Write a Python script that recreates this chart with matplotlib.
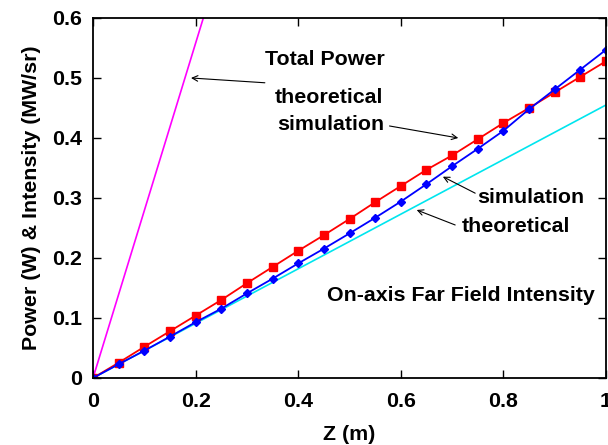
import matplotlib.pyplot as plt
import numpy as np

plt.rcParams['font.family'] = ['Liberation Sans', 'DejaVu Sans']
plt.rcParams['font.weight'] = 'bold'

z = [0.0, 0.05, 0.1, 0.15, 0.2, 0.25, 0.3, 0.35, 0.4, 0.45, 0.5,
     0.55, 0.6, 0.65, 0.7, 0.75, 0.8, 0.85, 0.9, 0.95, 1.0]
power_sim = [0.0, 0.0255, 0.052, 0.078, 0.104, 0.130, 0.158, 0.185, 0.212, 0.238, 0.265,
             0.293, 0.320, 0.347, 0.371, 0.398, 0.425, 0.450, 0.476, 0.502, 0.528]
inten_sim = [0.0, 0.023, 0.0455, 0.069, 0.093, 0.1155, 0.141, 0.1655, 0.191, 0.2155, 0.241,
             0.267, 0.294, 0.323, 0.353, 0.382, 0.412, 0.448, 0.481, 0.514, 0.547]
z_theory = [0.0, 1.0]
power_theory = [0.0, 2.79]
inten_theory = [0.0, 0.455]

fig = plt.figure(figsize=(6.08, 4.45), dpi=100)
ax = fig.add_axes([0.153, 0.1506, 0.8437, 0.809])

ax.plot(z_theory, power_theory, color='#ff00ff', lw=1.2)
ax.plot(z_theory, inten_theory, color='#00e5ee', lw=1.2)
ax.plot(z, power_sim, color='red', lw=1.3, marker='s', ms=5.5)
ax.plot(z, inten_sim, color='blue', lw=1.3, marker='D', ms=3.8)

ax.set_xlim(0, 1)
ax.set_ylim(0, 0.6)
ax.set_xticks([0, 0.2, 0.4, 0.6, 0.8, 1])
ax.set_xticklabels(['0', '0.2', '0.4', '0.6', '0.8', '1'])
ax.set_yticks([0, 0.1, 0.2, 0.3, 0.4, 0.5, 0.6])
ax.set_yticklabels(['0', '0.1', '0.2', '0.3', '0.4', '0.5', '0.6'])
ax.tick_params(direction='in', top=True, right=True, length=6, width=1,
               labelsize=15.4)
ax.tick_params(axis='x', pad=10)
ax.tick_params(axis='y', pad=8)
for s in ax.spines.values():
    s.set_linewidth(1.3)

ax.set_xlabel('Z (m)', fontsize=15.4, fontweight='bold', labelpad=10)
ax.set_ylabel('Power (W) & Intensity (MW/sr)', fontsize=15.4, fontweight='bold', labelpad=8)

fs = 15.4
arrow = dict(arrowstyle='->', color='black', lw=0.8, shrinkA=0, shrinkB=0)
ax.text(0.452, 0.53, 'Total Power', fontsize=fs, fontweight='bold', ha='center', va='center')
ax.text(0.46, 0.468, 'theoretical', fontsize=fs, fontweight='bold', ha='center', va='center')
ax.text(0.464, 0.423, 'simulation', fontsize=fs, fontweight='bold', ha='center', va='center')
ax.annotate('', xy=(0.191, 0.5), xytext=(0.335, 0.492), arrowprops=arrow)
ax.annotate('', xy=(0.712, 0.4), xytext=(0.578, 0.42), arrowprops=arrow)
ax.text(0.854, 0.30, 'simulation', fontsize=fs, fontweight='bold', ha='center', va='center')
ax.text(0.825, 0.252, 'theoretical', fontsize=fs, fontweight='bold', ha='center', va='center')
ax.annotate('', xy=(0.682, 0.3355), xytext=(0.745, 0.308), arrowprops=arrow)
ax.annotate('', xy=(0.631, 0.28), xytext=(0.706, 0.255), arrowprops=arrow)
ax.text(0.717, 0.137, 'On-axis Far Field Intensity', fontsize=fs, fontweight='bold',
        ha='center', va='center')

fig.savefig('out.png', dpi=100)
